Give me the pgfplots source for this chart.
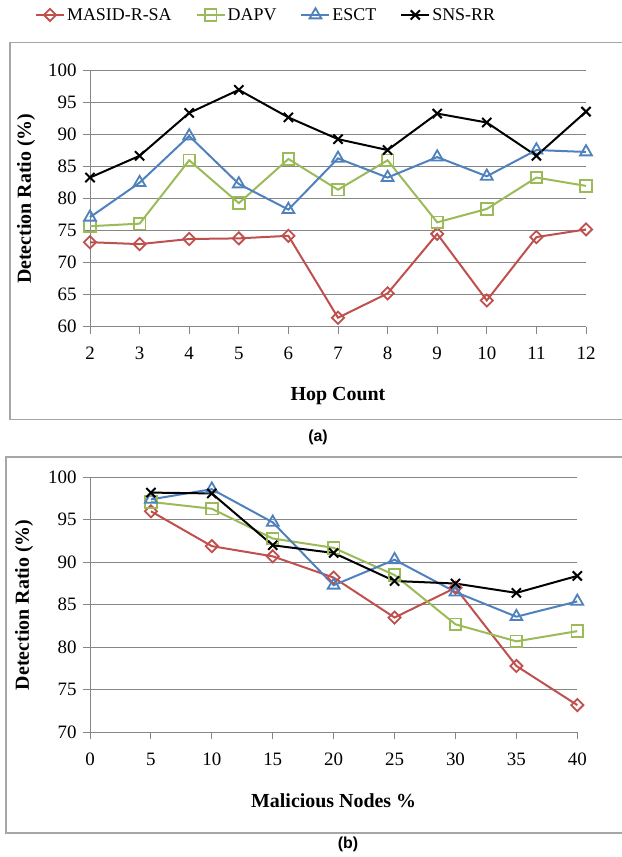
\documentclass[border=0pt]{standalone}
\usepackage{fontspec}
\setmainfont{Liberation Serif}
\newfontfamily\arialfont{Liberation Sans}
\usepackage{pgfplots}
\pgfplotsset{compat=1.18}
\definecolor{cred}{HTML}{C0504D}
\definecolor{cgreen}{HTML}{9BBB59}
\definecolor{cblue}{HTML}{4F81BD}
\definecolor{axgray}{HTML}{868686}
\definecolor{framegray}{HTML}{A6A6A6}
\pgfplotsset{
 excel/.style={
  scale only axis, clip=false,
  axis lines*=left,
  axis line style={draw=axgray,line width=1bp},
  ymajorgrids, major grid style={draw=axgray,line width=1bp},
  tick style={draw=axgray,line width=1bp},
  tick align=outside, major tick length=7bp,
  /pgf/number format/assume math mode=true,
  tick label style={font=\fontsize{19}{21}\selectfont},
  yticklabel style={xshift=-3bp},
  xticklabel style={yshift=-10bp},
  label style={font=\bfseries\fontsize{20}{22}\selectfont},
  every axis plot/.append style={line width=2bp},
 },
 sMASID/.style={cred, mark=square, mark options={solid, fill=white, line width=1.8bp, rotate=45, mark size=4.3bp}},
 sDAPV/.style={cgreen, mark=square, mark options={solid, fill=white, line width=1.8bp, mark size=5.8bp}},
 sESCT/.style={cblue, mark=triangle, mark options={solid, fill=white, line width=1.8bp, mark size=6.8bp}},
 sSNS/.style={black, mark=x, mark options={solid, line width=2bp, mark size=6.5bp}},
}
\begin{document}
\begin{tikzpicture}[x=1bp,y=1bp]
\path[use as bounding box] (0,0) rectangle (622,857);
\draw[framegray, line width=1.5bp] (622,814.5) -- (10,814.5) -- (10,437.5) -- (622,437.5);
\draw[framegray, line width=1.5bp] (622,400) -- (6,400) -- (6,24) -- (622,24);
\begin{axis}[excel,
  at={(90bp,530.3bp)}, anchor=south west, width=496bp, height=256bp,
  xmin=2, xmax=12, ymin=60, ymax=100,
  xtick={2,3,...,12}, ytick={60,65,...,100},
  xlabel={Hop Count}, ylabel={Detection Ratio (\%)},
  xlabel style={at={(axis description cs:0.5,-0.2695)}, anchor=center},
  ylabel style={at={(axis description cs:-0.129,0.5)}, anchor=center},
  legend columns=4,
  legend style={at={(0.355,1.2176)}, anchor=center, draw=none, fill=none,
    font=\fontsize{18}{20}\selectfont,
    /tikz/every even column/.append style={column sep=22bp}},
  legend image code/.code={\draw[mark repeat=2,mark phase=2] plot coordinates {(0bp,0bp)(14bp,0bp)(28bp,0bp)};},
]
\addplot[sMASID] coordinates {(2,73.2)(3,72.9)(4,73.7)(5,73.8)(6,74.2)(7,61.4)(8,65.2)(9,74.5)(10,64.1)(11,74.0)(12,75.2)};
\addlegendentry{MASID-R-SA}
\addplot[sDAPV] coordinates {(2,75.7)(3,76.1)(4,86.0)(5,79.3)(6,86.2)(7,81.4)(8,86.0)(9,76.3)(10,78.4)(11,83.3)(12,82.0)};
\addlegendentry{DAPV}
\addplot[sESCT] coordinates {(2,77.1)(3,82.5)(4,89.8)(5,82.3)(6,78.3)(7,86.3)(8,83.3)(9,86.5)(10,83.5)(11,87.6)(12,87.3)};
\addlegendentry{ESCT}
\addplot[sSNS] coordinates {(2,83.3)(3,86.7)(4,93.4)(5,97.0)(6,92.7)(7,89.3)(8,87.6)(9,93.3)(10,91.9)(11,86.7)(12,93.6)};
\addlegendentry{SNS-RR}
\end{axis}
\begin{axis}[excel,
  at={(90bp,124.7bp)}, anchor=south west, width=487.3bp, height=255bp,
  xmin=0, xmax=40, ymin=70, ymax=100,
  xtick={0,5,...,40}, ytick={70,75,...,100},
  xlabel={Malicious Nodes \%}, ylabel={Detection Ratio (\%)},
  xlabel style={at={(axis description cs:0.5,-0.2694)}, anchor=center},
  ylabel style={at={(axis description cs:-0.1355,0.5)}, anchor=center},
]
\addplot[sMASID] coordinates {(5,96.0)(10,91.9)(15,90.7)(20,88.2)(25,83.5)(30,87.0)(35,77.8)(40,73.2)};
\addplot[sDAPV] coordinates {(5,97.1)(10,96.3)(15,92.8)(20,91.7)(25,88.5)(30,82.7)(35,80.7)(40,81.9)};
\addplot[sESCT] coordinates {(5,97.4)(10,98.6)(15,94.7)(20,87.3)(25,90.3)(30,86.5)(35,83.6)(40,85.4)};
\addplot[sSNS] coordinates {(5,98.2)(10,98.1)(15,92.0)(20,91.1)(25,87.8)(30,87.5)(35,86.4)(40,88.4)};
\end{axis}
\node[font=\arialfont\bfseries\fontsize{16}{18}\selectfont] at (318,420) {(a)};
\node[font=\arialfont\bfseries\fontsize{16}{18}\selectfont] at (348,13) {(b)};
\end{tikzpicture}
\end{document}
